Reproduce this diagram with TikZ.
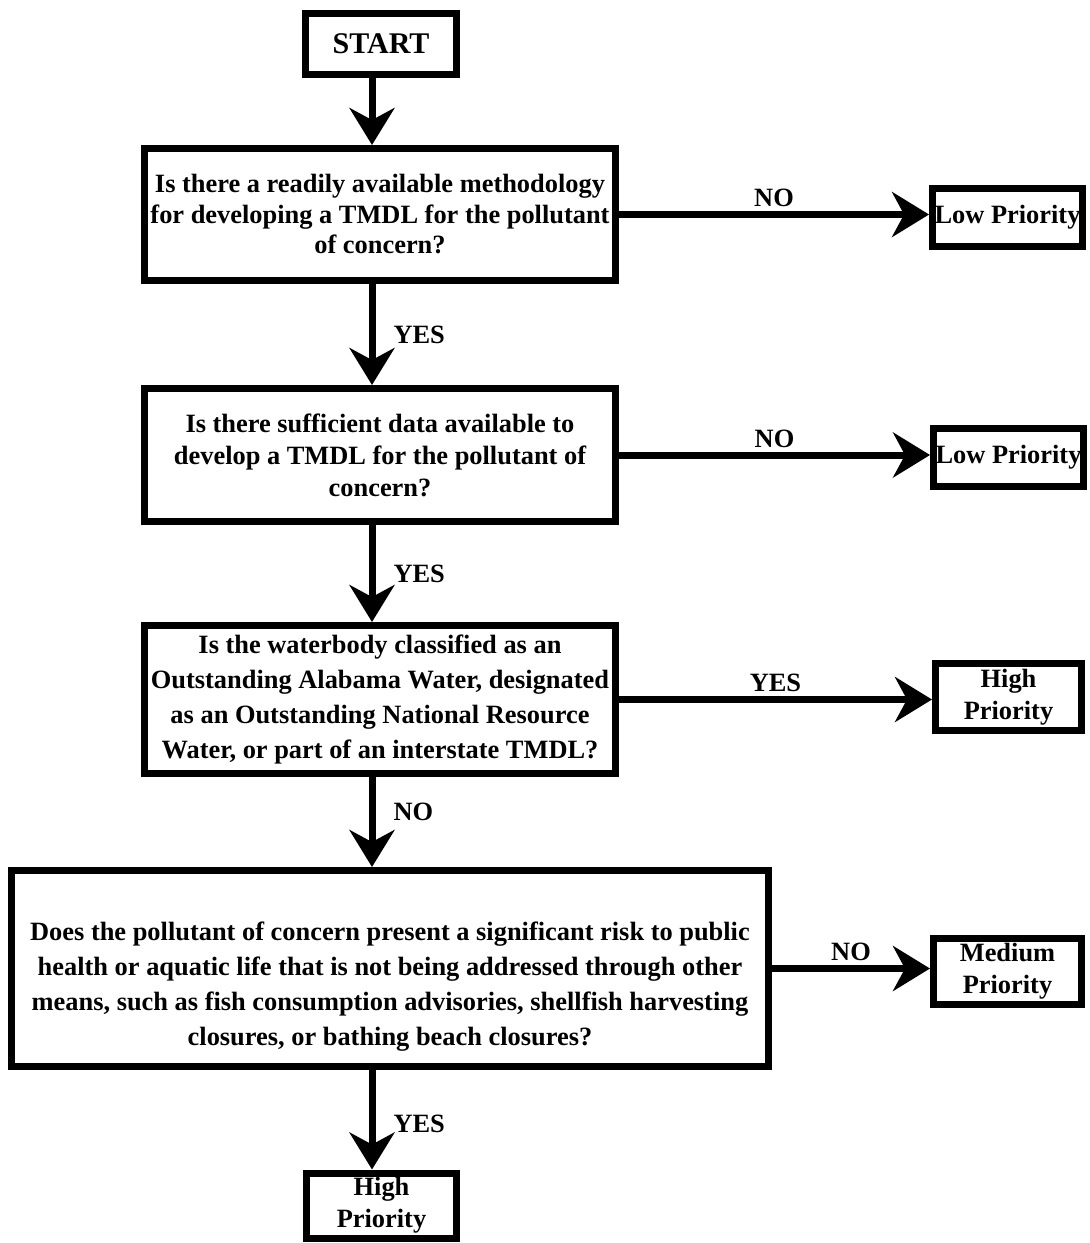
\documentclass[tikz,border=0pt]{standalone}
\usepackage{fontspec}
\setmainfont{Liberation Serif}
\usetikzlibrary{arrows.meta}
\tikzset{
  qbox/.style={rectangle, draw, line width=3.5pt, align=center, inner sep=1pt, font=\bfseries\fontsize{13.2}{#1}\selectfont},
  qbox/.default=15.5pt,
  lbl/.style={font=\bfseries\fontsize{13.2}{15}\selectfont, inner sep=1pt},
  line/.style={line width=3.5pt, -{Stealth[length=18.5pt, width=22.5pt, inset=6pt]}}
}

\begin{document}
\begin{tikzpicture}[x=0.5pt, y=-0.5pt]
    \useasboundingbox (0,0) rectangle (1089,1243);
    \coordinate (spine) at (372,0);
    \node[qbox, minimum width=75.5pt, minimum height=30.5pt, font=\bfseries\fontsize{15}{17}\selectfont] (start) at (381,44) {START};
    \node[qbox=15.25pt, minimum width=235.5pt, minimum height=66pt] (qa) at (380,214.5)
      {Is there a readily available methodology\\for developing a TMDL for the pollutant\\of concern?};
    \node[qbox, minimum width=74pt, minimum height=29pt] (low1) at (1007.5,217.5) {Low Priority};
    \node[qbox=16pt, minimum width=235.5pt, minimum height=66.5pt] (qb) at (380,455)
      {Is there sufficient data available to\\develop a TMDL for the pollutant of\\concern?};
    \node[qbox, minimum width=73pt, minimum height=29pt] (low2) at (1008.5,457.5) {Low Priority};
    \node[qbox=17.5pt, minimum width=235.5pt, minimum height=74pt] (qc) at (380,699.5)
      {Is the waterbody classified as an\\Outstanding Alabama Water, designated\\as an Outstanding National Resource\\Water, or part of an interstate TMDL?};
    \node[qbox=16pt, minimum width=73pt, minimum height=33.5pt] (high1) at (1008.5,697) {High\\Priority};
    \node[qbox=17.5pt, minimum width=378.5pt, minimum height=98pt] (qd) at (390,968.5)
      {\rule{0pt}{27pt}Does the pollutant of concern present a significant risk to public\\health or aquatic life that is not being addressed through other\\means, such as fish consumption advisories, shellfish harvesting\\closures, or bathing beach closures?};
    \node[qbox=16pt, minimum width=74pt, minimum height=33pt] (med) at (1007.5,971) {Medium\\Priority};
    \node[qbox=16pt, minimum width=75pt, minimum height=32.5pt] (high2) at (381.5,1205.5) {High\\Priority};
    % down the left column
    \draw[line] (start.south -| spine) -- (qa.north -| spine);
    \draw[line] (qa.south -| spine) -- node[lbl, right=8pt]{YES} (qb.north -| spine);
    \draw[line] (qb.south -| spine) -- node[lbl, right=8pt]{YES} (qc.north -| spine);
    \draw[line] (qc.south -| spine) -- node[lbl, right=8pt, yshift=5pt]{NO} (qd.north -| spine);
    \draw[line] (qd.south -| spine) -- node[lbl, right=8pt, yshift=-2pt]{YES} (high2.north -| spine);
    % out to the right
    \draw[line] (qa.east) -- node[lbl, above=1pt]{NO} (qa.east -| low1.west);
    \draw[line] (qb.east) -- node[lbl, above=1pt]{NO} (qb.east -| low2.west);
    \draw[line] (qc.east) -- node[lbl, above=1pt]{YES} (qc.east -| high1.west);
    \draw[line] (qd.east) -- node[lbl, above=1pt]{NO} (qd.east -| med.west);
\end{tikzpicture}
\end{document}
